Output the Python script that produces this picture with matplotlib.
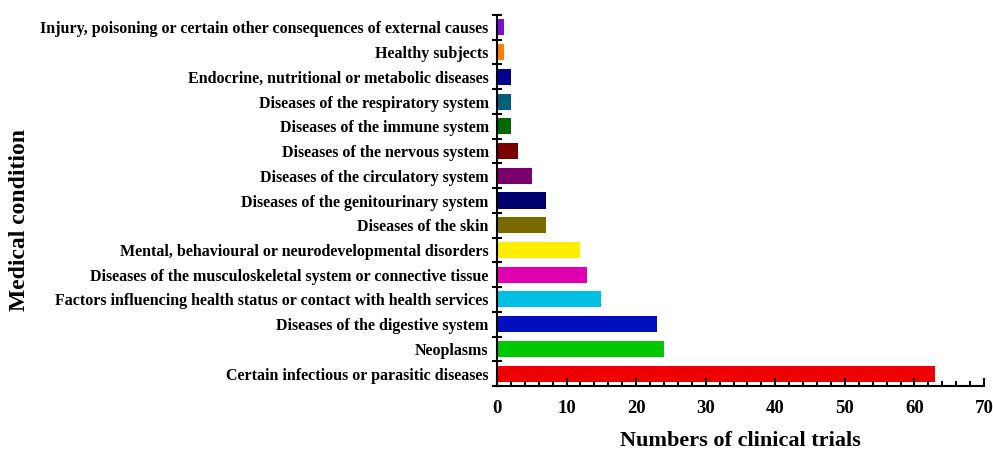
import matplotlib
matplotlib.use('Agg')
import matplotlib.pyplot as plt
import numpy as np

conditions = [
    "Certain infectious or parasitic diseases",
    "Neoplasms",
    "Diseases of the digestive system",
    "Factors influencing health status or contact with health services",
    "Diseases of the musculoskeletal system or connective tissue",
    "Mental, behavioural or neurodevelopmental disorders",
    "Diseases of the skin",
    "Diseases of the genitourinary system",
    "Diseases of the circulatory system",
    "Diseases of the nervous system",
    "Diseases of the immune system",
    "Diseases of the respiratory system",
    "Endocrine, nutritional or metabolic diseases",
    "Healthy subjects",
    "Injury, poisoning or certain other consequences of external causes",
]
trials = [63, 24, 23, 15, 13, 12, 7, 7, 5, 3, 2, 2, 2, 1, 1]
colors = ["#ee0000", "#00c800", "#0010c0", "#00bfe3", "#e000b0", "#ffee00",
          "#7a6a00", "#000070", "#7a0070", "#7a0000", "#006800", "#005f7a",
          "#000090", "#ff7f00", "#7b10d8"]

plt.rcParams['font.family'] = ['Liberation Serif', 'DejaVu Serif']
plt.rcParams['font.weight'] = 'bold'

fig = plt.figure(figsize=(9.93, 4.49), dpi=100)
ax = fig.add_axes([0.5005, 0.1403, 0.4905, 0.8263])

y = np.arange(len(conditions))
ax.barh(y, trials, height=0.65, color=colors)

ax.set_xlim(0, 70)
ax.set_ylim(-0.5, len(conditions) - 0.5)
ax.set_xticks(np.arange(0, 71, 10))
ax.set_xticks(np.arange(0, 71, 2), minor=True)
ax.set_yticks(y)
ax.set_yticklabels(conditions)
ax.set_yticks(np.arange(-0.5, len(conditions)), minor=True)

ax.tick_params(axis='x', which='major', direction='in', length=6, width=1.5, labelsize=13.5, pad=10)
ax.tick_params(axis='x', which='minor', direction='in', length=3.5, width=1.5)
ax.tick_params(axis='y', which='major', length=0, labelsize=11.5, pad=6)
ax.tick_params(axis='y', which='minor', direction='inout', length=7, width=1.5)

for s in ['top', 'right']:
    ax.spines[s].set_visible(False)
for s in ['left', 'bottom']:
    ax.spines[s].set_linewidth(1.5)

ax.set_xlabel('Numbers of clinical trials', fontsize=16, fontweight='bold', labelpad=10)
fig.text(0.02, 0.51, 'Medical condition', rotation=90, fontsize=17,
         fontweight='bold', ha='center', va='center')

fig.savefig('out.png', dpi=100)
